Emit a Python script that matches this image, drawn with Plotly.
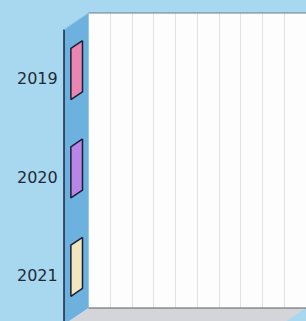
import plotly.graph_objects as go

# ---- data ----
categories = ["2019", "2020", "2021"]
values = [0, 0, 0]
bar_colors = ["#ea86b2", "#b985e6", "#f1e6bd"]
x_max = 10

# ---- pseudo-3D projection constants (in axis units) ----
DX = -1.126   # depth offset along x (front is to the left)
DY = 0.168    # depth offset along y (front is lower)
HALF = 0.26   # half bar thickness (category units)
D0, D1 = 0.245, 0.72  # bar depth span (fraction from back wall toward front)

n = len(categories)
y_top, y_bot = -0.5, n - 0.5

bg = "#a8d8ef"
side = "#6db1de"
floor = "#d4d5d8"

fig = go.Figure()

for i, (cat, v, col) in enumerate(zip(categories, values, bar_colors)):
    xs = [v + D0 * DX, v + D1 * DX, v + D1 * DX, v + D0 * DX, v + D0 * DX]
    ys = [i - HALF + D0 * DY, i - HALF + D1 * DY, i + HALF + D1 * DY,
          i + HALF + D0 * DY, i - HALF + D0 * DY]
    fig.add_trace(go.Scatter(x=xs, y=ys, mode="lines", fill="toself",
                             fillcolor=col, line=dict(color="#1b1f33", width=1.5),
                             hoverinfo="skip", showlegend=False, name=cat))

BIG = 50
shapes = []
# back wall (below gridlines)
shapes.append(dict(type="rect", xref="x", yref="y", x0=0, x1=x_max, y0=y_top, y1=y_bot,
                   fillcolor="#fdfdfd", line=dict(width=0), layer="below"))
# covers outside the back wall (between gridlines and traces)
shapes.append(dict(type="rect", xref="x", yref="y", x0=-BIG, x1=BIG, y0=-BIG, y1=y_top,
                   fillcolor=bg, line=dict(width=0), layer="between"))
shapes.append(dict(type="rect", xref="x", yref="y", x0=-BIG, x1=BIG, y0=y_bot, y1=BIG,
                   fillcolor=bg, line=dict(width=0), layer="between"))
shapes.append(dict(type="rect", xref="x", yref="y", x0=-BIG, x1=0, y0=-BIG, y1=BIG,
                   fillcolor=bg, line=dict(width=0), layer="between"))
# side wall
shapes.append(dict(type="path", xref="x", yref="y", layer="between",
                   path=f"M 0 {y_top} L 0 {y_bot} L {DX} {y_bot + DY} L {DX} {y_top + DY} Z",
                   fillcolor=side, line=dict(width=0)))
# floor
shapes.append(dict(type="path", xref="x", yref="y", layer="between",
                   path=f"M 0 {y_bot} L {x_max} {y_bot} L {x_max + DX} {y_bot + DY} L {DX} {y_bot + DY} Z",
                   fillcolor=floor, line=dict(width=0)))
# edges
shapes.append(dict(type="line", xref="x", yref="y", layer="between", x0=0, x1=x_max,
                   y0=y_top, y1=y_top, line=dict(color="#6a7f8c", width=1.2)))
shapes.append(dict(type="line", xref="x", yref="y", layer="between", x0=0, x1=x_max,
                   y0=y_bot, y1=y_bot, line=dict(color="#5a5f66", width=1.2)))
shapes.append(dict(type="line", xref="x", yref="y", layer="between", x0=DX, x1=DX,
                   y0=y_top + DY, y1=y_bot + DY, line=dict(color="#1b2540", width=1.5)))
shapes.append(dict(type="line", xref="x", yref="y", layer="between", x0=DX, x1=0,
                   y0=y_top + DY, y1=y_top, line=dict(color="#8fc4e6", width=1)))

annotations = []
for i, cat in enumerate(categories):
    annotations.append(dict(x=DX, y=i + DY, xref="x", yref="y", text=cat,
                            showarrow=False, xanchor="right", yanchor="middle", xshift=-4,
                            font=dict(family="DejaVu Sans", size=16, color="#1f2a36")))

fig.update_layout(
    width=306, height=321, autosize=False,
    margin=dict(l=0, r=0, t=0, b=0, pad=0),
    paper_bgcolor=bg, plot_bgcolor=bg,
    shapes=shapes, annotations=annotations,
    xaxis=dict(range=[-4.069, 10.0], showgrid=True, dtick=1, tick0=0,
               gridcolor="#e2e2e2", gridwidth=1, showticklabels=False,
               zeroline=False, showline=False, fixedrange=True),
    yaxis=dict(range=[2.632, -0.632], showgrid=False, showticklabels=False,
               zeroline=False, showline=False, fixedrange=True),
    hovermode=False,
)

fig.write_html("out.html", config={"displayModeBar": False},
               post_script="document.body.style.margin='0px';document.body.style.overflow='hidden';")
